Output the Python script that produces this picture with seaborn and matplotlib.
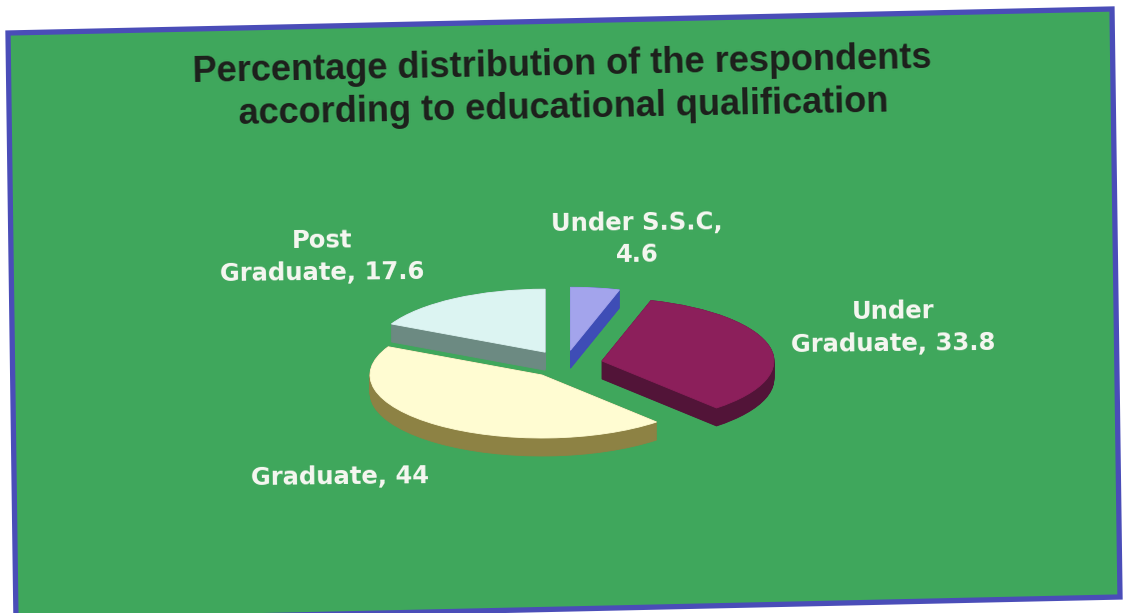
import numpy as np
import matplotlib
matplotlib.use("Agg")
import matplotlib.pyplot as plt
import seaborn as sns
from matplotlib.patches import Polygon

# ---- data -----------------------------------------------------------------
categories = ["Under S.S.C", "Under Graduate", "Graduate", "Post Graduate"]
percentages = [4.6, 33.8, 44, 17.6]
title_text = ("Percentage distribution of the respondents\n"
              "according to educational qualification")

# ---- styling --------------------------------------------------------------
sns.set_theme(style="white")
plt.rcParams["font.family"] = ["DejaVu Sans"]

panel_green = "#3fa75c"
panel_border = "#4a4db8"
top_colors = sns.color_palette(["#a3a4ec", "#8c1f5b", "#fffcd2", "#dcf4f2"])
side_colors = sns.color_palette(["#3e4db6", "#521438", "#8d8244", "#6c8a82"])
explode = [0.22, 0.22, 0.22, 0.22]

W, H = 1124, 613
fig = plt.figure(figsize=(W / 100, H / 100), dpi=100, facecolor="white")

# background panel (slightly tilted slide)
bg = fig.add_axes([0, 0, 1, 1])
bg.set_xlim(0, W)
bg.set_ylim(H, 0)
bg.axis("off")
panel = Polygon([(8, 33), (1112, 9), (1120, 597), (16, 621)], closed=True,
                facecolor=panel_green, edgecolor=panel_border, linewidth=3.8,
                joinstyle="miter")
bg.add_patch(panel)

bg.text(563, 87, title_text, ha="center", va="center", rotation=1.1,
        rotation_mode="anchor", fontsize=26, fontweight="bold",
        family=["Liberation Sans", "DejaVu Sans"], color="#1d1f1c",
        linespacing=1.28)

# ---- 3-D style exploded pie ----------------------------------------------
rx, ry = 172, 63          # pixel size of one data unit in x / y
cx, cy = 565, 364         # pixel centre of the top face
lim = 1.6
pax = fig.add_axes([(cx - lim * rx) / W, (H - cy - lim * ry) / H,
                    2 * lim * rx / W, 2 * lim * ry / H])

depth = 18 / ry
pie_kw = dict(startangle=90, counterclock=False, explode=explode, frame=False,
              wedgeprops=dict(linewidth=0.6))


def draw_layer(colors, dy):
    wedges, _ = pax.pie(percentages, colors=colors, center=(0, dy), **pie_kw)
    for w, c in zip(wedges, colors):
        w.set_edgecolor(c)
    return wedges


for d in np.linspace(depth, 0.0, 30):
    draw_layer(side_colors, -d)
draw_layer(top_colors, 0.0)

pax.set_aspect("auto")
pax.set_xlim(-lim, lim)
pax.set_ylim(-lim, lim)
pax.axis("off")

# ---- data labels ----------------------------------------------------------
def label_for(cat, val):
    if cat == "Under S.S.C":
        return f"{cat},\n{val:g}"
    if cat == "Graduate":
        return f"{cat}, {val:g}"
    return f"{cat.replace(' ', chr(10), 1)}, {val:g}"


label_pos = [(637, 239), (893, 328), (340, 477), (322, 257)]
for cat, val, (lx, ly) in zip(categories, percentages, label_pos):
    bg.text(lx, ly, label_for(cat, val), ha="center", va="center",
            multialignment="center", rotation=0.6, rotation_mode="anchor",
            fontsize=17.5, fontweight="bold", color="#f7f7f2",
            linespacing=1.45)

fig.savefig("out.png", dpi=100, facecolor="white")
